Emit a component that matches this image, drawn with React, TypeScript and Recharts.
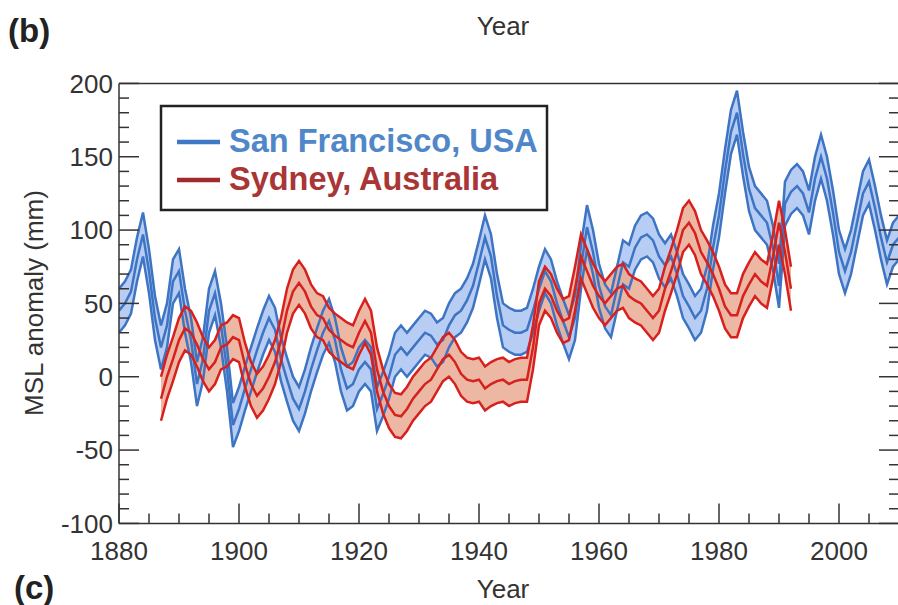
import React from 'react';
import { ComposedChart, Line, Area, XAxis, YAxis } from 'recharts';

// ---- Data ----
const SF_START_YEAR = 1880;
const SF_MSL = [
  45, 50, 58, 80, 97, 72, 40, 20, 35, 65, // 1880-1889
  72, 45, 25, -5, 12, 45, 57, 35, 5, -33, // 1890-1899
  -22, -8, 5, 18, 30, 40, 32, 12, -2, -15, // 1900-1909
  -22, -10, 5, 18, 30, 38, 25, 5, -8, -5, // 1910-1919
  5, 10, 5, -22, -12, 0, 15, 20, 15, 20, // 1920-1929
  25, 30, 28, 22, 25, 35, 42, 45, 52, 62, // 1930-1939
  78, 95, 82, 55, 35, 32, 30, 30, 32, 45, // 1940-1949
  60, 72, 65, 50, 38, 27, 40, 75, 102, 85, // 1950-1959
  62, 48, 42, 60, 78, 75, 88, 95, 97, 93, // 1960-1969
  82, 76, 82, 70, 55, 48, 40, 45, 60, 88, // 1970-1979
  110, 140, 167, 180, 152, 128, 115, 110, 105, 88, // 1980-1989
  62, 118, 126, 130, 125, 112, 135, 150, 135, 112, // 1990-1999
  85, 72, 85, 105, 125, 133, 115, 95, 78, 90, // 2000-2009
  95, // 2010
];
const SF_HALF_BAND = 15;

const SYD_START_YEAR = 1887;
const SYD_MSL = [
  -15, 0, 12, // 1887-1889
  25, 33, 30, 22, 12, 5, 10, 20, 22, 27, // 1890-1899
  25, 8, -5, -13, -8, 0, 10, 25, 45, 58, // 1900-1909
  64, 58, 48, 42, 40, 32, 28, 25, 22, 20, // 1910-1919
  30, 38, 30, 5, -10, -20, -26, -27, -22, -15, // 1920-1929
  -10, -5, -2, 5, 12, 15, 10, 2, -2, -3, // 1930-1939
  -2, -8, -5, -3, -2, -5, -3, -2, -2, 20, // 1940-1949
  50, 60, 55, 45, 38, 40, 60, 82, 72, 62, // 1950-1959
  55, 50, 55, 60, 62, 55, 52, 50, 45, 40, // 1960-1969
  45, 60, 72, 85, 100, 105, 98, 85, 78, 70, // 1970-1979
  60, 48, 42, 42, 55, 63, 70, 65, 62, 82, // 1980-1989
  105, 85, 60, // 1990-1992
];
const SYD_HALF_BAND = 15;

const X_DOMAIN = [1880, 2010];
const Y_DOMAIN = [-100, 200];
const X_TICKS = [1880, 1885, 1890, 1895, 1900, 1905, 1910, 1915, 1920, 1925, 1930, 1935, 1940, 1945, 1950, 1955, 1960, 1965, 1970, 1975, 1980, 1985, 1990, 1995, 2000, 2005, 2010];
const Y_TICKS = [-100, -90, -80, -70, -60, -50, -40, -30, -20, -10, 0, 10, 20, 30, 40, 50, 60, 70, 80, 90, 100, 110, 120, 130, 140, 150, 160, 170, 180, 190, 200];
const SERIES_NAMES = ['San Francisco, USA', 'Sydney, Australia'];

// ---- Build table ----
const rows: any[] = [];
const yearMap: Record<number, any> = {};
SF_MSL.forEach((v, i) => {
  const year = SF_START_YEAR + i;
  const r: any = { year, sf: v, sfLo: v - SF_HALF_BAND, sfHi: v + SF_HALF_BAND, sfBand: [v - SF_HALF_BAND, v + SF_HALF_BAND] };
  yearMap[year] = r;
  rows.push(r);
});
SYD_MSL.forEach((v, i) => {
  const year = SYD_START_YEAR + i;
  const r = yearMap[year];
  if (r) {
    r.syd = v;
    r.sydLo = v - SYD_HALF_BAND;
    r.sydHi = v + SYD_HALF_BAND;
    r.sydBand = [v - SYD_HALF_BAND, v + SYD_HALF_BAND];
  }
});

const FONT = '"Liberation Sans", Arial, Helvetica, sans-serif';
const AXIS_COLOR = '#333';
const TEXT_COLOR = '#333';
const SF_LINE = '#3d74c3';
const SF_FILL = '#b8cdf3';
const SYD_LINE = '#d8201e';
const SYD_FILL = '#e9ab94';

const MAJOR = 20;
const MINOR = 10;

const BottomTick = (props: any) => {
  const { x, y, payload } = props;
  const v = payload.value;
  const major = v % 20 === 0;
  return (
    <g>
      <line x1={x} x2={x} y1={y} y2={y - (major ? MAJOR : MINOR)} stroke={AXIS_COLOR} strokeWidth={1.5} />
      {major && v < 2010 ? (
        <text x={x} y={y + 37} textAnchor="middle" fontSize={26} fontFamily={FONT} fill={TEXT_COLOR}>
          {v}
        </text>
      ) : null}
    </g>
  );
};

const TopTick = (props: any) => {
  const { x, y, payload } = props;
  const major = payload.value % 20 === 0;
  return <line x1={x} x2={x} y1={y} y2={y + (major ? MAJOR : MINOR)} stroke={AXIS_COLOR} strokeWidth={1.5} />;
};

const LeftTick = (props: any) => {
  const { x, y, payload } = props;
  const v = payload.value;
  const major = v % 50 === 0;
  return (
    <g>
      <line x1={x} x2={x + (major ? MAJOR : MINOR)} y1={y} y2={y} stroke={AXIS_COLOR} strokeWidth={1.5} />
      {major ? (
        <text x={x - 6} y={y} dy="0.35em" textAnchor="end" fontSize={26} fontFamily={FONT} fill={TEXT_COLOR}>
          {v}
        </text>
      ) : null}
    </g>
  );
};

const RightTick = (props: any) => {
  const { x, y, payload } = props;
  const major = payload.value % 50 === 0;
  return <line x1={x} x2={x - (major ? MAJOR : MINOR)} y1={y} y2={y} stroke={AXIS_COLOR} strokeWidth={1.5} />;
};

export default function App() {
  return (
    <div style={{ position: 'absolute', left: 0, top: 0, width: 898, height: 605, overflow: 'hidden', background: '#fff' }}>
      <ComposedChart
        width={910}
        height={605}
        data={rows}
        margin={{ top: 82.4, right: 10, bottom: 41.6, left: 59 }}
      >
        <XAxis
          dataKey="year"
          type="number"
          domain={X_DOMAIN}
          allowDataOverflow
          ticks={X_TICKS}
          interval={0}
          tickSize={0}
          tickMargin={0}
          tickLine={false}
          tick={<BottomTick />}
          height={40}
          axisLine={{ stroke: AXIS_COLOR, strokeWidth: 1.5 }}
        />
        <XAxis
          xAxisId="top"
          orientation="top"
          type="number"
          domain={X_DOMAIN}
          allowDataOverflow
          ticks={X_TICKS}
          interval={0}
          tickSize={0}
          tickMargin={0}
          tickLine={false}
          tick={<TopTick />}
          height={1}
          axisLine={{ stroke: AXIS_COLOR, strokeWidth: 1.5 }}
        />
        <YAxis
          type="number"
          domain={Y_DOMAIN}
          allowDataOverflow
          ticks={Y_TICKS}
          interval={0}
          tickSize={0}
          tickMargin={0}
          tickLine={false}
          tick={<LeftTick />}
          width={60}
          axisLine={{ stroke: AXIS_COLOR, strokeWidth: 1.5 }}
        />
        <YAxis
          yAxisId="right"
          orientation="right"
          type="number"
          domain={Y_DOMAIN}
          allowDataOverflow
          ticks={Y_TICKS}
          interval={0}
          tickSize={0}
          tickMargin={0}
          tickLine={false}
          tick={<RightTick />}
          width={1}
          axisLine={{ stroke: AXIS_COLOR, strokeWidth: 1.5 }}
        />

        <Area dataKey="sfBand" type="linear" stroke="none" fill={SF_FILL} fillOpacity={1} isAnimationActive={false} />
        <Line dataKey="sfLo" type="linear" stroke={SF_LINE} strokeWidth={2.5} dot={false} isAnimationActive={false} />
        <Line dataKey="sfHi" type="linear" stroke={SF_LINE} strokeWidth={2.5} dot={false} isAnimationActive={false} />
        <Line dataKey="sf" type="linear" stroke={SF_LINE} strokeWidth={2.5} dot={false} isAnimationActive={false} />

        <Area dataKey="sydBand" type="linear" stroke="none" fill={SYD_FILL} fillOpacity={0.85} isAnimationActive={false} />
        <Line dataKey="sydLo" type="linear" stroke={SYD_LINE} strokeWidth={2.5} dot={false} isAnimationActive={false} />
        <Line dataKey="sydHi" type="linear" stroke={SYD_LINE} strokeWidth={2.5} dot={false} isAnimationActive={false} />
        <Line dataKey="syd" type="linear" stroke={SYD_LINE} strokeWidth={2.5} dot={false} isAnimationActive={false} />
      </ComposedChart>

      <svg width={898} height={605} style={{ position: 'absolute', left: 0, top: 0, pointerEvents: 'none' }}>
        <text x={8} y={42} fontSize={33} fontWeight="bold" fontFamily={FONT} fill="#222">(b)</text>
        <text x={503} y={35} fontSize={26} textAnchor="middle" fontFamily={FONT} fill={TEXT_COLOR}>Year</text>
        <text x={14} y={599} fontSize={33} fontWeight="bold" fontFamily={FONT} fill="#222">(c)</text>
        <text x={503} y={598} fontSize={26} textAnchor="middle" fontFamily={FONT} fill={TEXT_COLOR}>Year</text>
        <text x={43} y={303} fontSize={26} textAnchor="middle" fontFamily={FONT} fill={TEXT_COLOR} transform="rotate(-90 43 303)">
          MSL anomaly (mm)
        </text>

        <rect x={161} y={106} width={386} height={104} fill="#fff" stroke="#222" strokeWidth={2.5} />
        <line x1={177} x2={220} y1={142} y2={142} stroke="#3f78c4" strokeWidth={4.5} />
        <text x={229} y={152} fontSize={32.5} fontWeight="bold" fontFamily={FONT} fill="#4f87c9">{SERIES_NAMES[0]}</text>
        <line x1={177} x2={220} y1={180} y2={180} stroke="#a32a2a" strokeWidth={4.5} />
        <text x={229} y={190} fontSize={32.5} fontWeight="bold" fontFamily={FONT} fill="#a93636">{SERIES_NAMES[1]}</text>
      </svg>
    </div>
  );
}
